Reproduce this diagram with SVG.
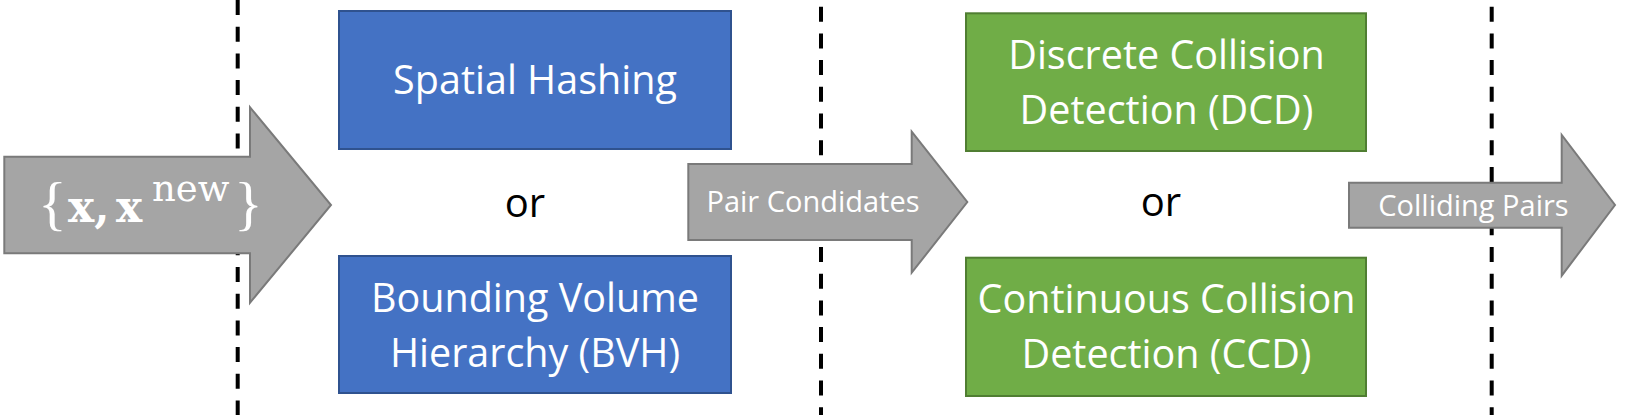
<svg xmlns="http://www.w3.org/2000/svg" width="1648" height="415" viewBox="0 0 1648 415">
<style>
.div{stroke:#000;stroke-width:4;stroke-dasharray:15 11.7;fill:none}
.arrow{fill:#A5A5A5;stroke:#7A7A7A;stroke-width:2}
.blue{fill:#4472C4;stroke:#2F528F;stroke-width:2}
.green{fill:#70AD47;stroke:#507E32;stroke-width:2}
.bt{font-family:"Open Sans","Noto Sans",sans-serif;font-size:39.5px;fill:#fff;text-anchor:middle}
.at{font-family:"Open Sans","Noto Sans",sans-serif;font-size:29px;fill:#fff;text-anchor:middle}
.or{font-family:"Open Sans","Noto Sans",sans-serif;font-size:40px;fill:#000;text-anchor:middle}
.math{font-family:"DejaVu Serif","Liberation Serif",serif;fill:#fff}
.brace{font-family:"Liberation Serif",serif;font-size:60px}
</style>
<rect width="1648" height="415" fill="#fff"/>
<g id="dividers">
<line class="div" x1="237.7" y1="0" x2="237.7" y2="415"/>
<line class="div" x1="821" y1="6.7" x2="821" y2="415"/>
<line class="div" x1="1491.7" y1="6.7" x2="1491.7" y2="415"/>
</g>
<g id="connectors">
<g id="arrow-input">
<polygon class="arrow" points="4.3,156.7 250,156.7 250,107.3 331,205 250,302.7 250,253.3 4.3,253.3"/>
<text class="math" y="223"><tspan class="brace" x="38">{</tspan><tspan x="68" y="222" font-size="44" font-weight="bold">x,</tspan><tspan x="116" font-size="44" font-weight="bold">x</tspan><tspan x="152" y="201" font-size="37">new</tspan><tspan class="brace" x="234" y="223">}</tspan></text>
</g>
<g id="arrow-pairs">
<polygon class="arrow" points="688.3,164 911.7,164 911.7,131.7 967.3,202 911.7,272.7 911.7,240 688.3,240"/>
<text class="at" x="813" y="212">Pair Condidates</text>
</g>
<g id="arrow-colliding">
<polygon class="arrow" points="1349,182.7 1561.7,182.7 1561.7,135 1615,205 1561.7,275.7 1561.7,227.7 1349,227.7"/>
<text class="at" x="1473.5" y="216">Colliding Pairs</text>
</g>
</g>
<g id="spatial-hashing">
<rect class="blue" x="339" y="11" width="392" height="138"/>
<text class="bt" x="535" y="94">Spatial Hashing</text>
</g>
<g id="or-1">
<text class="or" x="525" y="216.7">or</text>
</g>
<g id="bvh">
<rect class="blue" x="339" y="256" width="392" height="137"/>
<text class="bt" x="535" y="311.7">Bounding Volume</text>
<text class="bt" x="535" y="366.7">Hierarchy (BVH)</text>
</g>
<g id="dcd">
<rect class="green" x="966" y="13.3" width="400" height="137.7"/>
<text class="bt" x="1166.5" y="69">Discrete Collision</text>
<text class="bt" x="1166.5" y="124">Detection (DCD)</text>
</g>
<g id="or-2">
<text class="or" x="1161" y="216">or</text>
</g>
<g id="ccd">
<rect class="green" x="966" y="257.7" width="400" height="138.3"/>
<text class="bt" x="1166.5" y="313.3">Continuous Collision</text>
<text class="bt" x="1166.5" y="368.3">Detection (CCD)</text>
</g>
</svg>
